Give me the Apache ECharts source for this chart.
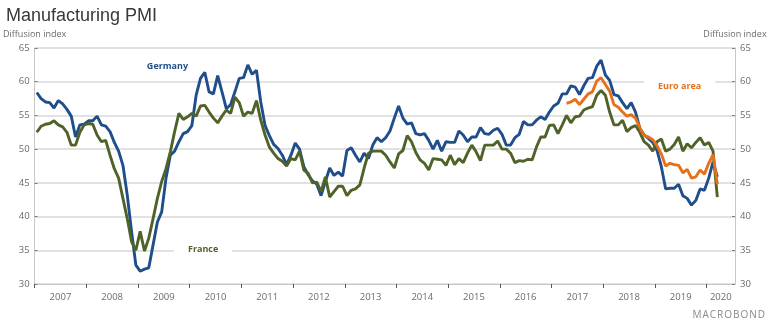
<!DOCTYPE html>
<html><head><meta charset="utf-8">
<script src="https://cdn.jsdelivr.net/npm/echarts@6/dist/echarts.min.js"></script>
<style>html,body{margin:0;padding:0;background:#fff}#c{width:770px;height:330px}</style>
</head><body><div id="c"></div>
<script>
// Monthly data, Germany & France from Jan 2007, Euro area from Apr 2017
const startYear = 2007;
const germany = [
  58.4, 57.5, 57.0, 56.9, 56.1, 57.2, 56.7, 55.9, 54.9, 51.8, 53.6, 53.7,
  54.2, 54.2, 54.9, 53.6, 53.4, 52.6, 51.0, 49.7, 47.6, 43.2, 37.8, 32.8,
  31.9, 32.2, 32.4, 35.8, 39.2, 40.7, 45.7, 49.1, 49.7, 51.1, 52.3, 52.6,
  53.5, 58.0, 60.5, 61.4, 58.5, 58.2, 60.9, 58.5, 56.0, 56.6, 58.5, 60.5,
  60.6, 62.5, 61.1, 61.7, 57.0, 53.5, 52.0, 50.7, 50.1, 49.1, 47.7, 49.1,
  50.9, 50.0, 47.4, 46.2, 45.3, 44.8, 43.1, 45.2, 47.2, 46.1, 46.6, 46.0,
  49.8, 50.2, 49.1, 48.1, 49.4, 48.6, 50.6, 51.7, 51.1, 51.7, 52.7, 54.6,
  56.4, 54.6, 53.7, 53.9, 52.3, 52.1, 52.3, 51.3, 50.0, 51.3, 49.7, 51.1,
  51.0, 51.0, 52.7, 52.1, 51.1, 51.8, 51.8, 53.2, 52.3, 52.2, 52.8, 53.1,
  52.2, 50.6, 50.6, 51.7, 52.2, 54.1, 53.6, 53.6, 54.3, 54.8, 54.4, 55.5,
  56.4, 56.8, 58.2, 58.2, 59.4, 59.2, 58.1, 59.4, 60.5, 60.6, 62.3, 63.2,
  61.0, 60.2, 58.1, 57.9, 56.9, 56.0, 56.9, 55.5, 53.1, 52.1, 51.6, 51.0,
  49.8, 47.4, 44.1, 44.2, 44.2, 44.8, 43.1, 42.7, 41.7, 42.4, 44.1, 43.9,
  45.7, 48.1, 45.9
];
const france = [
  52.5, 53.4, 53.7, 53.8, 54.2, 53.6, 53.3, 52.5, 50.6, 50.6, 52.5, 53.6,
  53.8, 53.7, 52.1, 51.1, 51.3, 49.1, 47.1, 45.7, 42.7, 39.7, 36.3, 35.0,
  37.8, 34.9, 36.8, 39.7, 42.7, 45.2, 47.1, 49.6, 52.6, 55.3, 54.4, 54.8,
  55.3, 54.9, 56.4, 56.5, 55.5, 54.6, 53.9, 54.9, 55.8, 55.3, 57.7, 56.9,
  54.9, 55.5, 55.3, 57.2, 54.3, 52.1, 50.3, 49.4, 48.6, 48.2, 47.5, 48.6,
  48.4, 49.7, 46.9, 46.4, 45.0, 45.1, 43.7, 45.9, 42.9, 43.7, 44.5, 44.5,
  43.1, 43.9, 44.1, 44.7, 47.2, 49.4, 49.7, 49.7, 49.7, 49.1, 48.1, 47.2,
  49.3, 49.8, 52.0, 51.1, 49.5, 48.4, 47.9, 46.9, 48.6, 48.5, 48.4, 47.6,
  49.1, 47.7, 48.6, 48.0, 49.4, 50.6, 49.6, 48.3, 50.6, 50.6, 50.6, 51.2,
  50.0, 50.0, 49.4, 48.0, 48.3, 48.2, 48.5, 48.4, 50.3, 51.8, 51.8, 53.5,
  53.6, 52.3, 53.6, 55.0, 53.9, 54.8, 54.9, 55.8, 56.1, 56.3, 58.0, 58.7,
  58.0, 55.5, 53.6, 53.6, 54.3, 52.6, 53.2, 53.5, 52.5, 51.1, 50.6, 49.7,
  51.1, 51.5, 49.7, 50.0, 50.7, 51.8, 49.7, 50.8, 50.2, 51.0, 51.7, 50.6,
  51.0, 49.7, 42.9
];
const euroStartYear = 2017, euroStartMonth = 4;
const euroArea = [
  56.8, 57.0, 57.4, 56.6, 57.4, 58.2, 58.5, 60.1, 60.6,
  59.6, 58.6, 56.6, 56.2, 55.5, 54.9, 55.1, 54.6, 53.2, 52.0, 51.8, 51.4,
  50.5, 49.3, 47.5, 47.9, 47.7, 47.6, 46.5, 47.0, 45.7, 45.9, 46.9, 46.3,
  47.9, 49.2, 44.8
];
const yearTicks = [2007,2008,2009,2010,2011,2012,2013,2014,2015,2016,2017,2018,2019,2020];
const seriesNames = ['Germany', 'France', 'Euro area'];
const axisTitle = 'Diffusion index';

const xMax = 2020.55;
function toPairs(arr, y0, m0) {
  return arr.map((v, i) => [y0 + (m0 - 1 + i + 0.5) / 12, v]);
}
const labelPos = yearTicks.map((y, i) => i < yearTicks.length - 1 ? y + 0.5 : (y + xMax) / 2);

const FONT = 'Open Sans';
const chart = echarts.init(document.getElementById('c'), null, {renderer: 'canvas'});
const mk = (name, coord, color, bg) => ({
  symbol: 'circle', symbolSize: 0, silent: true, animation: false,
  data: [{coord: coord}],
  label: {show: true, position: 'inside', formatter: name, color: color,
          fontFamily: FONT, fontWeight: 'bold', fontSize: 9,
          backgroundColor: bg ? '#fff' : 'transparent', padding: bg ? [2, 14] : 0}
});
const yCommon = {
  type: 'value', min: 30, max: 65, interval: 5,
  axisLine: {show: true, lineStyle: {color: '#c8c8c8', width: 1}},
  axisTick: {show: true, inside: true, length: 3, lineStyle: {color: '#7f7f7f'}},
  axisLabel: {color: '#6b6b6b', fontSize: 9.5, fontFamily: FONT, margin: 5},
  name: axisTitle, nameLocation: 'end', nameGap: 9,
  nameTextStyle: {color: '#6b6b6b', fontSize: 9, fontFamily: FONT, align: 'center'}
};
chart.setOption({
  animation: false,
  backgroundColor: '#fff',
  title: {text: 'Manufacturing PMI', left: 1, top: 2,
          textStyle: {fontFamily: 'Liberation Sans', fontSize: 18, fontWeight: 'normal', color: '#383838'}},
  grid: {left: 31.7, right: 35, top: 48, bottom: 46},
  xAxis: {
    type: 'value', min: 2007, max: xMax,
    axisLine: {show: true, lineStyle: {color: '#c8c8c8', width: 1}},
    axisTick: {show: true, customValues: yearTicks, length: 4, lineStyle: {color: '#595959'}},
    axisLabel: {customValues: labelPos, formatter: v => String(Math.floor(v)),
                color: '#6b6b6b', fontSize: 9.5, fontFamily: FONT, margin: 8},
    splitLine: {show: false}
  },
  yAxis: [
    Object.assign({}, yCommon, {position: 'left',
      splitLine: {show: true, lineStyle: {color: '#d9d9d9', width: 1.5}}}),
    Object.assign({}, yCommon, {position: 'right', splitLine: {show: false}})
  ],
  series: [
    {name: seriesNames[0], type: 'line', data: toPairs(germany, startYear, 1), showSymbol: false,
     lineStyle: {color: '#1f4e8a', width: 2.9}, itemStyle: {color: '#1f4e8a'},
     markPoint: mk(seriesNames[0], [2009.57, 62.33], '#1f4e8a', false)},
    {name: seriesNames[1], type: 'line', data: toPairs(france, startYear, 1), showSymbol: false,
     lineStyle: {color: '#4f6228', width: 2.9}, itemStyle: {color: '#4f6228'},
     markPoint: mk(seriesNames[1], [2010.26, 35.18], '#4f6228', true)},
    {name: seriesNames[2], type: 'line', data: toPairs(euroArea, euroStartYear, euroStartMonth), showSymbol: false,
     lineStyle: {color: '#e8701a', width: 2.9}, itemStyle: {color: '#e8701a'},
     markPoint: mk(seriesNames[2], [2019.48, 59.26], '#e8701a', true)}
  ],
  graphic: [{type: 'text', right: 5, top: 310,
    style: {text: 'M\u200AA\u200AC\u200AR\u200AO\u200AB\u200AO\u200AN\u200AD', fill: '#8a8a8a', font: '10px "Open Sans"'}}]
});
</script></body></html>
